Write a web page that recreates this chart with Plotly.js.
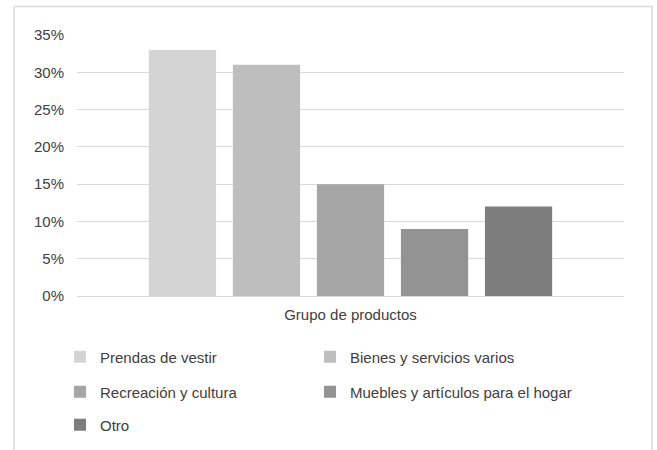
<!DOCTYPE html>
<html>
<head>
<meta charset="utf-8">
<script src="https://cdn.plot.ly/plotly-3.0.1.min.js"></script>
<style>
html,body{margin:0;padding:0;background:#fff;}
#chart{width:657px;height:450px;}
</style>
</head>
<body>
<div id="chart"></div>
<script>
const category = ["Grupo de productos"];
const seriesNames = ["Prendas de vestir", "Bienes y servicios varios", "Recreación y cultura", "Muebles y artículos para el hogar", "Otro"];
const seriesValues = [0.33, 0.31, 0.15, 0.09, 0.12];
const seriesColors = ["#d4d4d4", "#bebebe", "#a6a6a6", "#939393", "#7d7d7d"];
const legendIds = ["legend", "legend2", "legend3", "legend4", "legend5"];

const traces = seriesNames.map((n, i) => ({
  type: "bar",
  name: n,
  x: category,
  y: [seriesValues[i]],
  marker: {color: seriesColors[i]},
  legend: legendIds[i],
  hoverinfo: "none"
}));

const font = {family: "Liberation Sans, Arial, sans-serif", size: 15, color: "#404040"};
function leg(xpx, ypx) {
  return {
    orientation: "h", xref: "container", yref: "container",
    x: xpx / 657, y: 1 - ypx / 450, xanchor: "left", yanchor: "middle",
    font: font, bgcolor: "rgba(0,0,0,0)"
  };
}

const layout = {
  width: 657, height: 450,
  margin: {l: 77, r: 33, t: 35, b: 154},
  paper_bgcolor: "#ffffff", plot_bgcolor: "#ffffff",
  font: font,
  barmode: "group",
  bargap: 0.232,
  bargroupgap: 0.2,
  showlegend: true,
  xaxis: {
    showgrid: false, showline: false, zeroline: false,
    ticks: "", ticklabelstandoff: 8, tickfont: font, fixedrange: true
  },
  yaxis: {
    range: [0, 0.35], dtick: 0.05, tickformat: ".0%",
    showgrid: true, gridcolor: "#d9d9d9", gridwidth: 1,
    zeroline: true, zerolinecolor: "#d9d9d9", zerolinewidth: 1,
    showline: false, ticks: "", ticklabelstandoff: 12, tickfont: font, fixedrange: true
  },
  legend: leg(60, 357),
  legend2: leg(310, 357),
  legend3: leg(60, 392),
  legend4: leg(310, 392),
  legend5: leg(60, 425),
  shapes: [{
    type: "rect", xref: "paper", yref: "paper",
    x0: (14 - 77) / 547, x1: (652 - 77) / 547,
    y0: (296 - 470) / 261, y1: (296 - 6.5) / 261,
    line: {color: "#d9d9d9", width: 1.5}, fillcolor: "rgba(0,0,0,0)", layer: "below"
  }]
};

Plotly.newPlot("chart", traces, layout, {displayModeBar: false, staticPlot: true});
</script>
</body>
</html>
